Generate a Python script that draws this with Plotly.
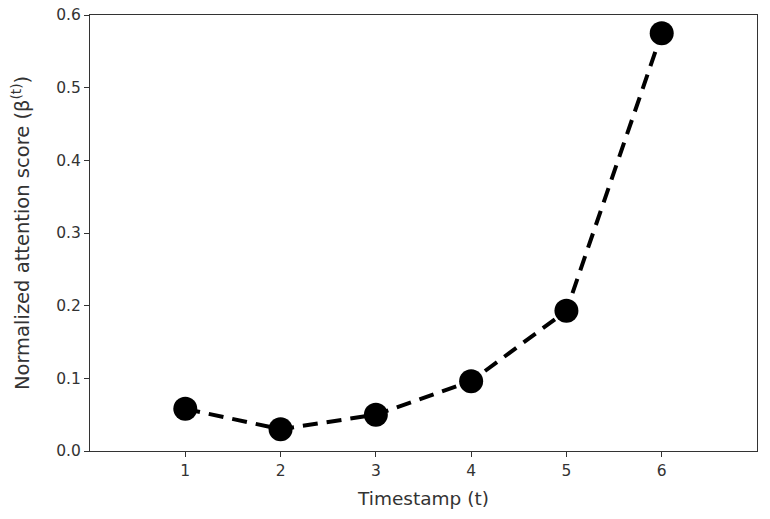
import plotly.graph_objects as go

timestamps = [1, 2, 3, 4, 5, 6]
scores = [0.058, 0.030, 0.050, 0.096, 0.193, 0.575]
x_ticks = [1, 2, 3, 4, 5, 6]
y_ticks = [0.0, 0.1, 0.2, 0.3, 0.4, 0.5, 0.6]

fig = go.Figure()
fig.add_trace(go.Scatter(
    x=timestamps, y=scores, mode="lines+markers",
    line=dict(color="black", width=4, dash="15px,9px"),
    marker=dict(color="black", size=24),
    showlegend=False,
))

axis_common = dict(
    showline=True, linecolor="#333", linewidth=1.2, mirror=True,
    ticks="outside", ticklen=5, tickcolor="#333", tickwidth=1,
    showgrid=False, zeroline=False, automargin=False,
    ticklabeloverflow="allow",
    tickfont=dict(family="DejaVu Sans", size=15.5, color="#333"),
)

fig.update_layout(
    width=770, height=519,
    margin=dict(l=82, r=21, t=7, b=76),
    plot_bgcolor="white", paper_bgcolor="white",
    xaxis=dict(range=[0, 7], tickvals=x_ticks,
               title=dict(text="Timestamp (t)", font=dict(family="DejaVu Sans", size=18.5, color="#333"), standoff=13),
               **axis_common),
    yaxis=dict(range=[0, 0.6], tickvals=y_ticks, tickformat=".1f",
               title=dict(text="Normalized attention score (β<sup>(t)</sup>)", font=dict(family="DejaVu Sans", size=19.5, color="#333"), standoff=28),
               **axis_common),
)

fig.write_html("out.html")
